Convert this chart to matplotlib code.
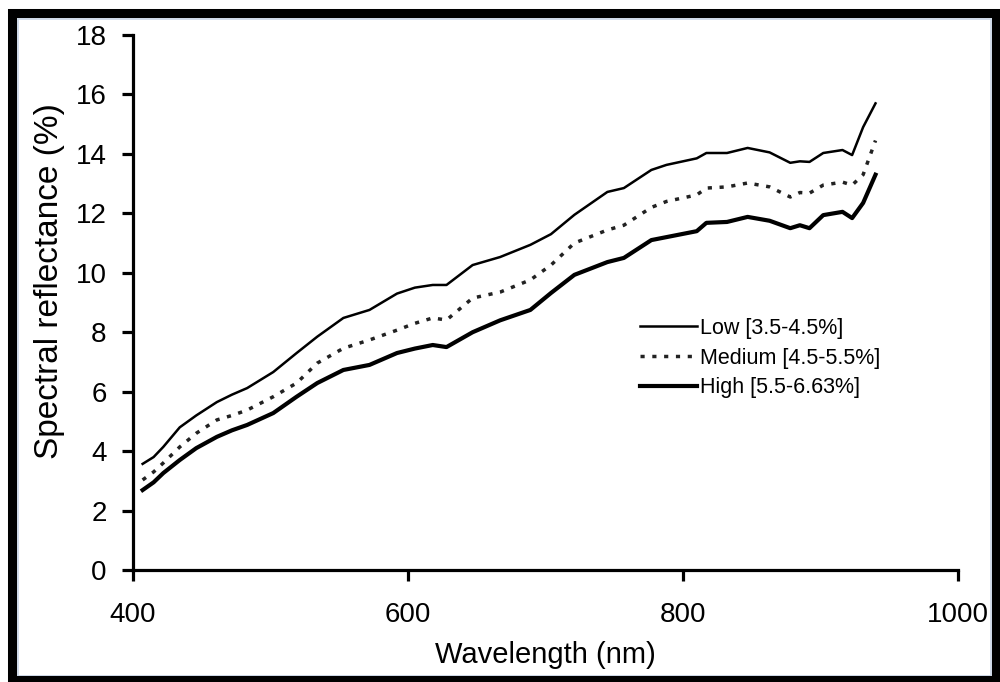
import matplotlib
matplotlib.use("Agg")
import matplotlib.pyplot as plt
from matplotlib.patches import Rectangle

plt.rcParams['font.family'] = ['Liberation Sans', 'DejaVu Sans']

wavelength = [407, 415, 422, 434, 446, 461, 472, 483, 502, 519, 534, 553, 572, 592,
              605, 618, 628, 647, 667, 689, 704, 721, 745, 757, 777, 788, 810, 817,
              832, 847, 863, 878, 885, 892, 902, 916, 923, 931, 940]

low = [3.57, 3.80, 4.14, 4.80, 5.20, 5.65, 5.90, 6.12, 6.66, 7.30, 7.85, 8.48, 8.75, 9.30,
       9.50, 9.59, 9.59, 10.26, 10.53, 10.94, 11.30, 11.95, 12.72, 12.85, 13.46, 13.63, 13.85, 14.03,
       14.03, 14.20, 14.05, 13.70, 13.75, 13.73, 14.03, 14.13, 13.96, 14.90, 15.70]

medium = [3.03, 3.30, 3.60, 4.14, 4.60, 5.05, 5.20, 5.38, 5.83, 6.29, 6.96, 7.46, 7.74, 8.07,
          8.30, 8.48, 8.41, 9.15, 9.35, 9.76, 10.26, 11.00, 11.44, 11.60, 12.20, 12.40, 12.62, 12.85,
          12.89, 13.02, 12.89, 12.55, 12.70, 12.68, 12.95, 13.05, 12.95, 13.30, 14.45]

high = [2.69, 2.95, 3.26, 3.70, 4.10, 4.48, 4.70, 4.88, 5.28, 5.83, 6.29, 6.73, 6.90, 7.30,
        7.45, 7.57, 7.50, 8.00, 8.40, 8.75, 9.32, 9.93, 10.36, 10.50, 11.10, 11.20, 11.40, 11.68,
        11.71, 11.88, 11.75, 11.50, 11.60, 11.50, 11.94, 12.05, 11.84, 12.35, 13.30]

labels = ["Low [3.5-4.5%]", "Medium [4.5-5.5%]", "High [5.5-6.63%]"]
x_ticks = [400, 600, 800, 1000]
y_ticks = [0, 2, 4, 6, 8, 10, 12, 14, 16, 18]

fig = plt.figure(figsize=(10, 6.82), dpi=100)
fig.patch.set_facecolor('white')
ax = fig.add_axes([0.133, 1 - 570 / 682, 0.825, (570 - 35) / 682])

ax.plot(wavelength, low, color='black', lw=1.8, label=labels[0])
ax.plot(wavelength, medium, color='#222222', lw=2.5, linestyle=(0, (1.2, 2.2)), label=labels[1])
ax.plot(wavelength, high, color='black', lw=3.0, label=labels[2])

ax.set_xlim(400, 1000)
ax.set_ylim(0, 18)
ax.set_xticks(x_ticks)
ax.set_yticks(y_ticks)
for s in ['top', 'right']:
    ax.spines[s].set_visible(False)
for s in ['left', 'bottom']:
    ax.spines[s].set_linewidth(2.3)
ax.tick_params(direction='out', length=8, width=2.3, labelsize=20, colors='black')
ax.tick_params(axis='x', pad=15)
ax.tick_params(axis='y', pad=11)

ax.set_xlabel("Wavelength (nm)", fontsize=21, va='center')
ax.xaxis.set_label_coords(545 / 1000, 1 - 655 / 682, transform=fig.transFigure)
ax.set_ylabel("Spectral reflectance (%)", fontsize=24, va='center')
ax.yaxis.set_label_coords(50 / 1000, 1 - 281 / 682, transform=fig.transFigure)

ax.legend(loc='upper left', bbox_to_anchor=(0.640, 1 - 318 / 682), bbox_transform=fig.transFigure,
          frameon=False, fontsize=15.5, handlelength=2.65, handletextpad=0.14,
          labelspacing=0.4, borderpad=0, borderaxespad=0)

# scanned-figure frame: thin light inner line plus thick black border
fig.patches.append(Rectangle((17.5 / 1000, 1 - 675.5 / 682), 973 / 1000, 657 / 682,
                             transform=fig.transFigure, fill=False, edgecolor='#c9d6e6',
                             linewidth=1.2, zorder=9))
fig.patches.append(Rectangle((12 / 1000, 1 - 680 / 682), 984 / 1000, 667 / 682,
                             transform=fig.transFigure, fill=False, edgecolor='black',
                             linewidth=6.5, zorder=10))

fig.savefig("out.png", dpi=100, facecolor='white')
